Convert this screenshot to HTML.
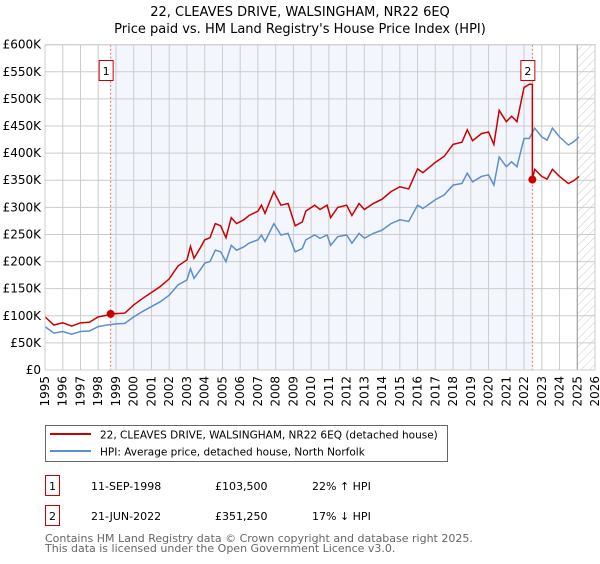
<!DOCTYPE html>
<html><head><meta charset="utf-8">
<style>
body{margin:0;background:#fff;width:600px;height:560px;overflow:hidden;font-family:"DejaVu Sans","Liberation Sans",sans-serif;}
svg text{font-family:"DejaVu Sans","Liberation Sans",sans-serif;}
</style></head>
<body>
<svg id="chart" width="600" height="560" viewBox="0 0 600 560">
<defs>
<pattern id="hatch" width="6" height="6" patternUnits="userSpaceOnUse" patternTransform="rotate(45)">
<line x1="0" y1="0" x2="0" y2="6" stroke="#bbb" stroke-width="0.8"/></pattern>
</defs>
<text x="300" y="16" text-anchor="middle" font-size="13" fill="#000">22, CLEAVES DRIVE, WALSINGHAM, NR22 6EQ</text>
<text x="300" y="33" text-anchor="middle" font-size="13" fill="#000">Price paid vs. HM Land Registry's House Price Index (HPI)</text>
<g id="plot"></g>
<g>
<rect x="45.5" y="425.5" width="402" height="36" fill="#fff" stroke="#666"/>
<line x1="50" y1="434" x2="91" y2="434" stroke="#cc0000" stroke-width="2"/>
<text x="100" y="438.5" font-size="10.5">22, CLEAVES DRIVE, WALSINGHAM, NR22 6EQ (detached house)</text>
<line x1="50" y1="451" x2="91" y2="451" stroke="#5b8fd0" stroke-width="2"/>
<text x="100" y="455.5" font-size="10.5">HPI: Average price, detached house, North Norfolk</text>
</g>
<g>
<rect x="45.5" y="475.5" width="14" height="20" fill="#fff" stroke="#cc0000"/>
<text x="52.5" y="490" font-size="11" text-anchor="middle">1</text>
<text x="91" y="490" font-size="11">11-SEP-1998</text>
<text x="215" y="490" font-size="11">£103,500</text>
<text x="312" y="490" font-size="11">22% ↑ HPI</text>
<rect x="45.5" y="505.5" width="14" height="20" fill="#fff" stroke="#cc0000"/>
<text x="52.5" y="520" font-size="11" text-anchor="middle">2</text>
<text x="91" y="520" font-size="11">21-JUN-2022</text>
<text x="215" y="520" font-size="11">£351,250</text>
<text x="312" y="520" font-size="11">17% ↓ HPI</text>
</g>
<text x="45" y="542" font-size="11" fill="#666">Contains HM Land Registry data © Crown copyright and database right 2025.</text>
<text x="45" y="552" font-size="11" fill="#666">This data is licensed under the Open Government Licence v3.0.</text>
</svg>
<script>
const yTicks=[0,50,100,150,200,250,300,350,400,450,500,550,600];
const yTickLabels=["£0","£50K","£100K","£150K","£200K","£250K","£300K","£350K","£400K","£450K","£500K","£550K","£600K"];
const xYears=[1995,1996,1997,1998,1999,2000,2001,2002,2003,2004,2005,2006,2007,2008,2009,2010,2011,2012,2013,2014,2015,2016,2017,2018,2019,2020,2021,2022,2023,2024,2025,2026];
const hpiT=[1995.0,1995.5,1996.0,1996.5,1997.0,1997.5,1998.0,1998.5,1999.0,1999.5,2000.0,2000.5,2001.0,2001.5,2002.0,2002.5,2003.0,2003.2,2003.4,2003.8,2004.0,2004.3,2004.6,2004.9,2005.2,2005.5,2005.8,2006.2,2006.5,2007.0,2007.2,2007.4,2007.9,2008.3,2008.7,2009.1,2009.5,2009.7,2010.2,2010.5,2010.9,2011.1,2011.5,2012.0,2012.3,2012.7,2013.0,2013.5,2014.0,2014.5,2015.0,2015.5,2016.0,2016.3,2017.0,2017.5,2018.0,2018.5,2018.8,2019.1,2019.6,2020.0,2020.3,2020.6,2021.0,2021.3,2021.6,2022.0,2022.3,2022.6,2023.0,2023.3,2023.6,2024.0,2024.5,2024.8,2025.1];
const hpiV=[80,68,71,66,71,72,80,83,85,86,98,108,117,126,138,157,166,187,169,187,197,200,221,218,200,230,221,227,234,240,249,237,270,249,252,218,224,240,249,243,249,230,246,249,234,252,243,252,258,270,277,274,304,298,314,323,341,344,363,347,357,360,341,393,375,384,375,427,427,446,430,424,446,430,415,421,430];
const priceT=[1995.0,1995.5,1996.0,1996.5,1997.0,1997.5,1998.0,1998.5,1998.7,1999.0,1999.5,2000.0,2000.5,2001.0,2001.5,2002.0,2002.5,2003.0,2003.2,2003.4,2003.8,2004.0,2004.3,2004.6,2004.9,2005.2,2005.5,2005.8,2006.2,2006.5,2007.0,2007.2,2007.4,2007.9,2008.3,2008.7,2009.1,2009.5,2009.7,2010.2,2010.5,2010.9,2011.1,2011.5,2012.0,2012.3,2012.7,2013.0,2013.5,2014.0,2014.5,2015.0,2015.5,2016.0,2016.3,2017.0,2017.5,2018.0,2018.5,2018.8,2019.1,2019.6,2020.0,2020.3,2020.6,2021.0,2021.3,2021.6,2022.0,2022.3,2022.47,2022.47,2022.6,2023.0,2023.3,2023.6,2024.0,2024.5,2024.8,2025.1];
const priceV=[98,83,87,81,87,88,98,101,103.5,104,105,120,132,143,154,168,192,203,228,206,228,240,244,270,266,244,281,270,277,285,293,304,289,329,304,307,266,273,293,304,296,304,281,300,304,285,307,296,307,315,329,338,334,371,364,383,394,416,420,443,423,436,439,416,479,458,468,458,521,527,527,351.25,370,357,352,370,357,344,349,357];
const saleT=[1998.7,2022.47];
const saleV=[103.5,351.25];
const saleLabels=["1","2"];

const X0=45,X1=595,Y0=370,Y1=44.7;
const xs=t=>X0+(t-1995)/(2026-1995)*(X1-X0);
const ys=v=>Y0-v/600*(Y0-Y1);
const NS="http://www.w3.org/2000/svg";
const plot=document.getElementById('plot');
function mk(tag,attrs,parent){const e=document.createElementNS(NS,tag);for(const k in attrs)e.setAttribute(k,attrs[k]);(parent||plot).appendChild(e);return e;}

let r=mk('rect',{x:xs(saleT[0]),y:Y1,width:xs(saleT[1])-xs(saleT[0]),height:Y0-Y1,fill:'#f3f6fd'});


r=mk('rect',{x:xs(2025.0),y:Y1,width:X1-xs(2025.0),height:Y0-Y1,fill:'url(#hatch)'});


xYears.forEach(yr=>{
  const l=mk('line',{x1:xs(yr),x2:xs(yr),y1:Y1,y2:Y0,stroke:'#ccc','stroke-width':1});
  
  
  const t=mk('text',{x:0,y:0,'font-size':12,'text-anchor':'end',transform:`translate(${xs(yr)+4},${Y0+6}) rotate(-90)`});
  t.textContent=yr;
  
  
});
yTicks.forEach((v,i)=>{
  const l=mk('line',{x1:X0,x2:X1,y1:ys(v),y2:ys(v),stroke:'#ccc','stroke-width':1});
  
  
  const t=mk('text',{x:X0-4,y:ys(v)+4,'font-size':12,'text-anchor':'end'});
  t.textContent=yTickLabels[i];
  
  
});
let b=mk('line',{x1:xs(2025.0),x2:xs(2025.0),y1:Y1,y2:Y0,stroke:'#999','stroke-width':1});


saleT.forEach((t,i)=>{
  const l=mk('line',{x1:xs(t),x2:xs(t),y1:Y1,y2:Y0,stroke:'#ff6666','stroke-width':1,'stroke-dasharray':'2,2'});
  
  
});
let hp=mk('polyline',{points:hpiT.map((t,i)=>xs(t)+','+ys(hpiV[i])).join(' '),fill:'none',stroke:'#5b8fd0','stroke-width':1.5});


let pp=mk('polyline',{points:priceT.map((t,i)=>xs(t)+','+ys(priceV[i])).join(' '),fill:'none',stroke:'#cc0000','stroke-width':1.5});


saleT.forEach((t,i)=>{
  const c=mk('circle',{cx:xs(t),cy:ys(saleV[i]),r:4,fill:'#cc0000'});
  
  
  const bx=mk('rect',{x:xs(t)-11.5,y:60.5,width:14,height:20,fill:'#fff',stroke:'#cc0000'});
  
  
  const tx=mk('text',{x:xs(t)-4.5,y:75,'font-size':11,'text-anchor':'middle'});
  tx.textContent=saleLabels[i];
  
  
});
let fr=mk('rect',{x:X0,y:Y1,width:X1-X0,height:Y0-Y1,fill:'none',stroke:'#ccc'});


</script>
</body></html>
